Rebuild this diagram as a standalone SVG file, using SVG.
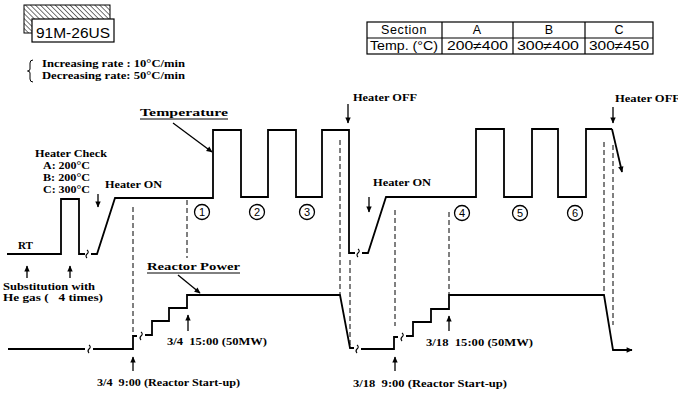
<svg xmlns="http://www.w3.org/2000/svg" width="678" height="397" viewBox="0 0 678 397">
<style>
.b{font-family:"Liberation Serif",serif;font-weight:bold;font-size:11px;fill:#000}
.s{font-family:"Liberation Sans",sans-serif;fill:#000}
.ln{fill:none;stroke:#000;stroke-width:1.8;stroke-linejoin:miter}
.dl{fill:none;stroke:#000;stroke-width:1;stroke-dasharray:5,3}
.ar{fill:none;stroke:#000;stroke-width:1.3}
.brk{fill:none;stroke:#000;stroke-width:1.1}
.cir{fill:#fff;stroke:#000;stroke-width:1.3}
.tb{fill:none;stroke:#000;stroke-width:1.2}
</style>
<defs>
<pattern id="hatch" width="3.5" height="3.5" patternUnits="userSpaceOnUse" patternTransform="rotate(-45)">
<line x1="0" y1="0" x2="0" y2="3.5" stroke="#000" stroke-width="1.1"/>
</pattern>
<marker id="ah" viewBox="0 0 10 10" refX="9" refY="5" markerWidth="8" markerHeight="6" orient="auto" markerUnits="userSpaceOnUse">
<path d="M0,0.5 L10,5 L0,9.5 z" fill="#000"/>
</marker>
</defs>

<g id="label-box">
<rect x="24" y="5" width="86" height="28" fill="url(#hatch)" stroke="#000" stroke-width="1"/>
<rect x="32" y="19" width="82" height="23" fill="#fff" stroke="#000" stroke-width="1.2"/>
<text class="s" x="36" y="38" font-size="15.5" textLength="74" lengthAdjust="spacingAndGlyphs">91M-26US</text>
</g>

<g id="rates">
<path d="M33,60 q-3,0 -3,3 v6 q0,2 -2.5,2 q2.5,0 2.5,2 v6 q0,3 3,3" fill="none" stroke="#000" stroke-width="1"/>
<text class="b" x="42" y="67" font-size="10.5" textLength="143" lengthAdjust="spacingAndGlyphs">Increasing rate : 10°C/min</text>
<text class="b" x="42" y="79" font-size="10.5" textLength="143" lengthAdjust="spacingAndGlyphs">Decreasing rate: 50°C/min</text>
</g>

<g id="table">
<rect class="tb" x="367" y="22" width="286" height="32"/>
<line class="tb" x1="367" y1="38" x2="653" y2="38"/>
<line class="tb" x1="442" y1="22" x2="442" y2="54"/>
<line class="tb" x1="513" y1="22" x2="513" y2="54"/>
<line class="tb" x1="585" y1="22" x2="585" y2="54"/>
<text class="s" font-size="12.5" x="404" y="34" text-anchor="middle" letter-spacing="0.6">Section</text>
<text class="s" font-size="12.5" x="477" y="34" text-anchor="middle">A</text>
<text class="s" font-size="12.5" x="549" y="34" text-anchor="middle">B</text>
<text class="s" font-size="12.5" x="619" y="34" text-anchor="middle">C</text>
<text class="s" font-size="12.5" x="370" y="50" textLength="68" lengthAdjust="spacingAndGlyphs">Temp. (°C)</text>
<text class="s" font-size="12.5" x="447" y="50" textLength="61" lengthAdjust="spacingAndGlyphs">200≠400</text>
<text class="s" font-size="12.5" x="517" y="50" textLength="62" lengthAdjust="spacingAndGlyphs">300≠400</text>
<text class="s" font-size="12.5" x="589" y="50" textLength="60" lengthAdjust="spacingAndGlyphs">300≠450</text>
</g>

<g id="connectors">
<path class="ln" d="M7,254 H61 V199 H79 V254 H85"/>
<path class="brk" d="M87,250 q2.5,2 0,4 q-2,2 0,4"/>
<path class="ln" d="M91,254 H97 L115,198 H213 V130 H241 V197 H268 V130 H296 V197 H322 V130 H349 V253 H355"/>
<path class="brk" d="M358,249 q2.5,2 0,4 q-2,2 0,4"/>
<path class="ln" d="M362,253 H368 L386,197 H476 V129 H504 V197 H532 V129 H558 V197 H586 V129 H612"/>
<path class="ln" d="M612,129 L622,172" marker-end="url(#ah)"/>
<path class="ln" d="M8,349 H85"/>
<path class="brk" d="M89,345 q2.5,2 0,4 q-2,2 0,4"/>
<path class="ln" d="M93,349 H133 V336 H137"/>
<path class="brk" d="M141,332 q2.5,2 0,4 q-2,2 0,4"/>
<path class="ln" d="M145,335 H152 V321 H169 V308 H187 V295 H340 L350,348 H354"/>
<path class="brk" d="M357,345 q2.5,2 0,4 q-2,2 0,4"/>
<path class="ln" d="M361,349 H394 V337 H398"/>
<path class="brk" d="M402,333 q2.5,2 0,4 q-2,2 0,4"/>
<path class="ln" d="M406,336 H413 V322 H431 V309 H449 V295 H604 L613,350 H632" marker-end="url(#ah)"/>
<line class="dl" x1="133" y1="207" x2="133" y2="336"/>
<line class="dl" x1="187" y1="200" x2="187" y2="258"/>
<line class="dl" x1="340" y1="140" x2="340" y2="294"/>
<line class="dl" x1="350" y1="260" x2="350" y2="345"/>
<line class="dl" x1="395" y1="210" x2="395" y2="326"/>
<line class="dl" x1="449" y1="212" x2="449" y2="294"/>
<line class="dl" x1="604" y1="142" x2="604" y2="294"/>
<line class="dl" x1="613" y1="145" x2="613" y2="325"/>
<line class="ar" x1="27" y1="278" x2="27" y2="266" marker-end="url(#ah)"/>
<line class="ar" x1="70" y1="278" x2="70" y2="266" marker-end="url(#ah)"/>
<line class="ar" x1="98" y1="194" x2="98" y2="207" marker-end="url(#ah)"/>
<line class="ar" x1="348" y1="104" x2="348" y2="123" marker-end="url(#ah)"/>
<line class="ar" x1="369" y1="197" x2="369" y2="212" marker-end="url(#ah)"/>
<line class="ar" x1="613" y1="107" x2="613" y2="123" marker-end="url(#ah)"/>
<line class="ar" x1="188" y1="331" x2="188" y2="315" marker-end="url(#ah)"/>
<line class="ar" x1="133" y1="371" x2="133" y2="357" marker-end="url(#ah)"/>
<line class="ar" x1="449" y1="331" x2="449" y2="316" marker-end="url(#ah)"/>
<line class="ar" x1="395" y1="371" x2="395" y2="357" marker-end="url(#ah)"/>
<line class="ar" x1="173" y1="123" x2="212" y2="152" marker-end="url(#ah)"/>
<line class="ar" x1="178" y1="275" x2="200" y2="293" marker-end="url(#ah)"/>
</g>

<g id="temperature-label">
<text class="b" x="140" y="116" font-size="12" textLength="88" lengthAdjust="spacingAndGlyphs">Temperature</text>
<line x1="140" y1="119" x2="228" y2="119" stroke="#000" stroke-width="1"/>
</g>
<g id="power-label">
<text class="b" x="147" y="270" font-size="12" textLength="93" lengthAdjust="spacingAndGlyphs">Reactor Power</text>
<line x1="147" y1="273" x2="240" y2="273" stroke="#000" stroke-width="1"/>
</g>

<g id="heater-check">
<text class="b" x="35" y="157" textLength="72" lengthAdjust="spacingAndGlyphs">Heater Check</text>
<text class="b" x="43" y="169" textLength="47" lengthAdjust="spacingAndGlyphs">A: 200°C</text>
<text class="b" x="43" y="181" textLength="47" lengthAdjust="spacingAndGlyphs">B: 200°C</text>
<text class="b" x="43" y="193" textLength="47" lengthAdjust="spacingAndGlyphs">C: 300°C</text>
</g>
<g id="heater-on-1"><text class="b" x="105" y="188" textLength="57" lengthAdjust="spacingAndGlyphs">Heater ON</text></g>
<g id="heater-off-1"><text class="b" x="353" y="101" textLength="64" lengthAdjust="spacingAndGlyphs">Heater OFF</text></g>
<g id="heater-on-2"><text class="b" x="373" y="186" textLength="58" lengthAdjust="spacingAndGlyphs">Heater ON</text></g>
<g id="heater-off-2"><text class="b" x="615" y="102" textLength="65" lengthAdjust="spacingAndGlyphs">Heater OFF</text></g>
<g id="rt"><text class="b" x="18" y="249" textLength="15" lengthAdjust="spacingAndGlyphs">RT</text></g>
<g id="substitution">
<text class="b" x="3" y="290" textLength="92" lengthAdjust="spacingAndGlyphs">Substitution with</text>
<text class="b" x="3" y="301" textLength="100" lengthAdjust="spacingAndGlyphs" xml:space="preserve">He gas (   4 times)</text>
</g>
<g id="event-1"><text class="b" x="167" y="345" textLength="100" lengthAdjust="spacingAndGlyphs" xml:space="preserve">3/4  15:00 (50MW)</text></g>
<g id="event-2"><text class="b" x="97" y="386" textLength="143" lengthAdjust="spacingAndGlyphs" xml:space="preserve">3/4  9:00 (Reactor Start-up)</text></g>
<g id="event-3"><text class="b" x="426" y="346" textLength="107" lengthAdjust="spacingAndGlyphs" xml:space="preserve">3/18  15:00 (50MW)</text></g>
<g id="event-4"><text class="b" x="353" y="387" textLength="154" lengthAdjust="spacingAndGlyphs" xml:space="preserve">3/18  9:00 (Reactor Start-up)</text></g>

<g id="c1"><circle class="cir" cx="202" cy="212" r="7.5"/><text class="s" font-size="11" x="202" y="216" text-anchor="middle">1</text></g>
<g id="c2"><circle class="cir" cx="257" cy="212" r="7.5"/><text class="s" font-size="11" x="257" y="216" text-anchor="middle">2</text></g>
<g id="c3"><circle class="cir" cx="307" cy="212" r="7.5"/><text class="s" font-size="11" x="307" y="216" text-anchor="middle">3</text></g>
<g id="c4"><circle class="cir" cx="462" cy="213" r="7.5"/><text class="s" font-size="11" x="462" y="217" text-anchor="middle">4</text></g>
<g id="c5"><circle class="cir" cx="520" cy="213" r="7.5"/><text class="s" font-size="11" x="520" y="217" text-anchor="middle">5</text></g>
<g id="c6"><circle class="cir" cx="575" cy="213" r="7.5"/><text class="s" font-size="11" x="575" y="217" text-anchor="middle">6</text></g>
</svg>
